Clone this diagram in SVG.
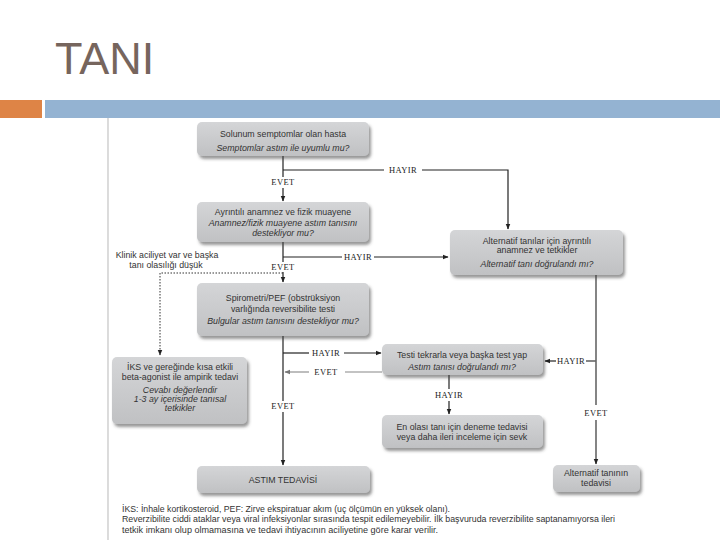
<svg xmlns="http://www.w3.org/2000/svg" width="720" height="540" viewBox="0 0 720 540">
<defs>
<linearGradient id="boxg" x1="0" y1="0" x2="0" y2="1">
<stop offset="0" stop-color="#d4d5d7"/>
<stop offset="1" stop-color="#c0c1c3"/>
</linearGradient>
<filter id="sh" x="-10%" y="-20%" width="125%" height="160%">
<feDropShadow dx="2" dy="3" stdDeviation="1.6" flood-color="#444" flood-opacity="0.55"/>
</filter>
<marker id="ah" viewBox="0 0 10 10" refX="9" refY="5" markerWidth="6" markerHeight="6" orient="auto" markerUnits="userSpaceOnUse">
<path d="M0,1 L10,5 L0,9 z" fill="#222"/>
</marker>
<marker id="ahg" viewBox="0 0 10 10" refX="9" refY="5" markerWidth="6" markerHeight="6" orient="auto" markerUnits="userSpaceOnUse">
<path d="M0,1 L10,5 L0,9 z" fill="#777"/>
</marker>
</defs>
<style>
.box{fill:url(#boxg);filter:url(#sh);}
.t{font-family:"Liberation Sans","Open Sans",sans-serif;font-size:8.8px;fill:#333;text-anchor:middle;}
.i{font-style:italic;}
.lbl{font-family:"Liberation Serif","DejaVu Serif",serif;font-size:8.5px;fill:#222;text-anchor:middle;letter-spacing:0.4px;}
.ln{fill:none;stroke:#222;stroke-width:1.2;}
.lg{fill:none;stroke:#888;stroke-width:1.1;}
.lr{fill:none;stroke:#666;stroke-width:1.6;}
.dot{fill:none;stroke:#333;stroke-width:1;stroke-dasharray:1.5 1.5;}
.fn{font-family:"Liberation Sans","Open Sans",sans-serif;font-size:8.3px;fill:#333;}
</style>

<rect x="0" y="0" width="720" height="540" fill="#ffffff"/>
<text x="55" y="74" font-family="Liberation Sans, Arial, sans-serif" font-size="45" fill="#76655d">TANI</text>
<rect x="0" y="100" width="42" height="18" fill="#de8446"/>
<rect x="45" y="100" width="675" height="18" fill="#94b3d2"/>
<line x1="108" y1="118" x2="108" y2="540" stroke="#c4c4c4" stroke-width="1.2"/>

<g id="connectors">
<path class="ln" d="M283,156 V177"/>
<path class="ln" d="M283,188 V201" marker-end="url(#ah)"/>
<path class="ln" d="M283,170 H384"/>
<path class="ln" d="M422,170 H508 V229" marker-end="url(#ah)"/>
<path class="ln" d="M283,242 V262"/>
<path class="ln" d="M283,272 V282" marker-end="url(#ah)"/>
<path class="ln" d="M283,257 H342"/>
<path class="ln" d="M374,257 H448" marker-end="url(#ah)"/>
<path class="dot" d="M283,273 H160 V355" marker-end="url(#ah)"/>
<path class="ln" d="M283,336 V401"/>
<path class="ln" d="M283,412 V465" marker-end="url(#ah)"/>
<path class="ln" d="M283,353 H309"/>
<path class="ln" d="M344,353 H381" marker-end="url(#ah)"/>
<path class="lg" d="M382,372 H345"/>
<path class="lg" d="M309,372 H285" marker-end="url(#ahg)"/>
<path class="ln" d="M449,375 V389"/>
<path class="ln" d="M449,401 V414" marker-end="url(#ah)"/>
<path class="lr" d="M596,275 V405"/>
<path class="lr" d="M596,420 V464" marker-end="url(#ah)"/>
<path class="lr" d="M596,361 H586"/>
<path class="ln" d="M556,361 H545" marker-end="url(#ah)"/>
</g>

<g id="labels">
<text class="lbl" x="403" y="173">HAYIR</text>
<text class="lbl" x="283" y="185">EVET</text>
<text class="lbl" x="358" y="260">HAYIR</text>
<text class="lbl" x="283" y="270">EVET</text>
<text class="lbl" x="326" y="356">HAYIR</text>
<text class="lbl" x="326" y="375" fill="#333">EVET</text>
<text class="lbl" x="283" y="409">EVET</text>
<text class="lbl" x="449" y="398">HAYIR</text>
<text class="lbl" x="571" y="364">HAYIR</text>
<text class="lbl" x="596" y="416">EVET</text>
<text class="t" x="167" y="258" font-size="7.8">Klinik aciliyet var ve başka</text>
<text class="t" x="166" y="268" font-size="7.8">tanı olasılığı düşük</text>
</g>

<g id="n1">
<rect class="box" x="197" y="122" width="172" height="34" rx="5"/>
<text class="t" x="283" y="137">Solunum semptomlar olan hasta</text>
<text class="t i" x="283" y="151">Semptomlar astım ile uyumlu mu?</text>
</g>
<g id="n2">
<rect class="box" x="197" y="202" width="172" height="40" rx="5"/>
<text class="t" x="283" y="215">Ayrıntılı anamnez ve fizik muayene</text>
<text class="t i" x="283" y="226">Anamnez/fizik muayene astım tanısını</text>
<text class="t i" x="283" y="236">destekliyor mu?</text>
</g>
<g id="n3">
<rect class="box" x="197" y="283" width="172" height="53" rx="5"/>
<text class="t" x="283" y="301">Spirometri/PEF (obstrüksiyon</text>
<text class="t" x="283" y="312">varlığında reversibilite testi</text>
<text class="t i" x="283" y="324">Bulgular astım tanısını destekliyor mu?</text>
</g>
<g id="n4">
<rect class="box" x="450" y="230" width="173" height="45" rx="5"/>
<text class="t" x="537" y="244" font-size="8">Alternatif tanılar için ayrıntılı</text>
<text class="t" x="537" y="253" font-size="8">anamnez ve tetkikler</text>
<text class="t i" x="537" y="267" font-size="8">Alternatif tanı doğrulandı mı?</text>
</g>
<g id="n5">
<rect class="box" x="382" y="344" width="161" height="31" rx="5"/>
<text class="t" x="462" y="358">Testi tekrarla veya başka test yap</text>
<text class="t i" x="462" y="370">Astım tanısı doğrulandı mı?</text>
</g>
<g id="n6">
<rect class="box" x="382" y="415" width="161" height="33" rx="5"/>
<text class="t" x="462" y="430" font-size="8">En olası tanı için deneme tedavisi</text>
<text class="t" x="462" y="440" font-size="8">veya daha ileri inceleme için sevk</text>
</g>
<g id="n7">
<rect class="box" x="112" y="357" width="135" height="67" rx="5"/>
<text class="t" x="180" y="370" font-size="8">İKS ve gereğinde kısa etkili</text>
<text class="t" x="180" y="380" font-size="8">beta-agonist ile ampirik tedavi</text>
<text class="t i" x="180" y="393" font-size="7.4">Cevabı değerlendir</text>
<text class="t i" x="180" y="402" font-size="7.4">1-3 ay içerisinde tanısal</text>
<text class="t i" x="180" y="411" font-size="7.4">tetkikler</text>
</g>
<g id="n8">
<rect class="box" x="197" y="466" width="173" height="27" rx="5"/>
<text class="t" x="283" y="483" font-size="8">ASTIM TEDAVİSİ</text>
</g>
<g id="n9">
<rect class="box" x="553" y="465" width="87" height="27" rx="5"/>
<text class="t" x="596" y="476" font-size="8">Alternatif tanının</text>
<text class="t" x="596" y="486" font-size="8">tedavisi</text>
</g>

<g id="footnote">
<text class="fn" x="122" y="512" textLength="328" lengthAdjust="spacingAndGlyphs">İKS: İnhale kortikosteroid, PEF: Zirve ekspiratuar akım (uç ölçümün en yüksek olanı).</text>
<text class="fn" x="122" y="522" textLength="493" lengthAdjust="spacingAndGlyphs">Reverzibilite ciddi ataklar veya viral infeksiyonlar sırasında tespit edilemeyebilir. İlk başvuruda reverzibilite saptanamıyorsa ileri</text>
<text class="fn" x="122" y="533" textLength="316" lengthAdjust="spacingAndGlyphs">tetkik imkanı olup olmamasına ve tedavi ihtiyacının aciliyetine göre karar verilir.</text>
</g>
</svg>
